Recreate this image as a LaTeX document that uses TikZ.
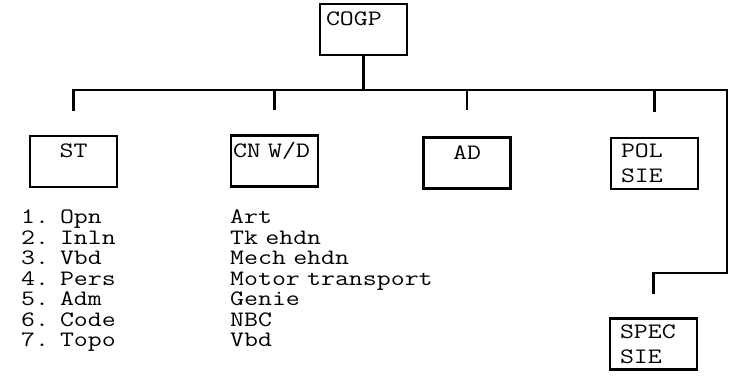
\documentclass[tikz,border=0pt]{standalone}
\usepackage{fontspec}
\setmonofont{Latin Modern Mono}[FakeStretch=1.23]
\usepackage{tikz}
\usetikzlibrary{calc}
% fixed word space, one character cell wide
\newcommand{\fixspace}{\fontdimen2\font=\fontcharwd\font`M\relax
  \fontdimen3\font=0pt\relax\fontdimen4\font=0pt\relax}
\newcommand{\boxfont}{\fontsize{22}{25}\selectfont\ttfamily\fixspace}
\newcommand{\listfont}{\fontsize{22}{20.5}\selectfont\ttfamily\fixspace}
\tikzset{
  unit/.style={draw,line width=2.4pt,minimum width=87pt,minimum height=51pt,
    inner xsep=6pt,inner ysep=6pt,text width=75pt,align=left,font=\boxfont},
  oneline/.style={unit,text height=16pt,text depth=23pt},
  link/.style={line width=2.2pt},
  roster/.style={anchor=base west,align=left,text width=220pt,inner sep=0pt,font=\listfont}
}

\begin{document}
\begin{tikzpicture}[x=1pt,y=-1pt]
\useasboundingbox (0,0) rectangle (729,382);
% boxes
\node[oneline] (cogp) at (363.5,29.5) {COGP};
\node[oneline,align=center] (st) at (73.5,161.5) {ST};
\node[oneline,inner xsep=2pt,text width=83pt] (cnwd) at (274.5,161) {CN W/D};
\node[oneline,align=center] (ad) at (467,163) {AD};
\node[unit,inner xsep=10pt,text width=67pt] (pol) at (654.5,163.5) {POL\\SIE};
\node[unit,inner xsep=10pt,text width=67pt] (spec) at (653.5,344) {SPEC\\SIE};
% bus
\coordinate (busL) at (72,90);
\coordinate (busR) at (727,90);
\coordinate (turn) at (727,273);
\draw[link] (cogp.south) -- (cogp.south |- busL);
\draw[link] (busL) -- (busR) -- (turn) -| ($(spec.north)+(0,-23)$);
\draw[link] (st.north |- busL) -- ++(0,21);
\draw[link] (cnwd.north |- busL) -- ++(0,20);
\draw[link] (ad.north |- busL) -- ++(0,20);
\draw[link] (pol.north |- busL) -- ++(0,22);
% lists
\node[roster] (stlist) at (21,224) {1. Opn\\2. Inln\\3. Vbd\\4. Pers\\5. Adm\\6. Code\\7. Topo};
\node[roster] (cnlist) at (230,224) {Art\\Tk ehdn\\Mech ehdn\\Motor transport\\Genie\\NBC\\Vbd};
\end{tikzpicture}
\end{document}
